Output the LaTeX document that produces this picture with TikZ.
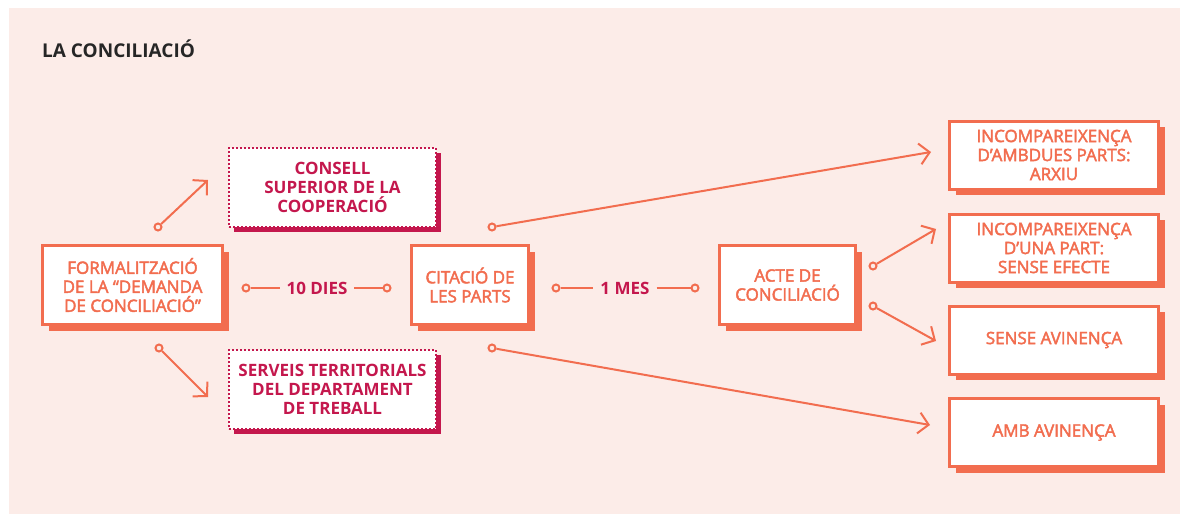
\documentclass[tikz,border=0pt]{standalone}
\usepackage{fontspec}
\setmainfont{Open Sans}
\newfontfamily\semib[FakeBold=2.5]{Open Sans}
\usetikzlibrary{arrows.meta,shadows,positioning}

\definecolor{orng}{HTML}{F26D4F}
\definecolor{crim}{HTML}{C4174D}
\definecolor{bgpink}{HTML}{FCECE8}

\begin{document}
\begin{tikzpicture}[x=1pt,y=-1pt,>={Straight Barb[length=10pt,width=21pt]},
    main box/.style={draw=orng,line width=3pt,fill=white,text=orng,align=center,inner sep=0pt,
        font=\semib\fontsize{17}{19}\selectfont,
        drop shadow={shadow xshift=6pt,shadow yshift=-6pt,fill=orng,opacity=1}},
    end box/.style={main box,minimum width=209pt,minimum height=68pt},
    side box/.style={draw=crim,line width=2pt,dotted,fill=white,text=crim,align=center,inner sep=0pt,
        font=\bfseries\fontsize{17}{19}\selectfont,minimum width=207pt,minimum height=79pt,
        drop shadow={shadow xshift=5pt,shadow yshift=-5pt,fill=crim,opacity=1}},
    dot/.style={circle,draw=orng,fill=bgpink,line width=2pt,minimum size=7pt,inner sep=0pt},
    conn/.style={draw=orng,line width=2pt},
    gap label/.style={text=crim,font=\bfseries\fontsize{17}{19}\selectfont,inner xsep=7pt,inner ysep=2pt,outer sep=0pt}]

    \useasboundingbox (0,0) rectangle (1180,514);
    \fill[bgpink] (9,8) rectangle (1180,514);

    \node[anchor=base west,inner sep=0pt,font=\bfseries\fontsize{19}{22}\selectfont,text=black!85] (title) at (42,57) {LA CONCILIACIÓ};

    % main row
    \node[main box,minimum width=180pt,minimum height=79pt] (formal) at (132.5,285) {FORMALITZACIÓ\\DE LA “DEMANDA\\DE CONCILIACIÓ”};
    \node[main box,minimum width=117pt,minimum height=79pt] (citacio) at (470,285) {CITACIÓ DE\\LES PARTS};
    \node[main box,minimum width=136pt,minimum height=79pt] (acte) at (787.5,285) {ACTE DE\\CONCILIACIÓ};

    % bodies
    \node[side box] (consell) at (332.5,187) {CONSELL\\SUPERIOR DE LA\\COOPERACIÓ};
    \node[side box] (serveis) at (332.5,389.5) {SERVEIS TERRITORIALS\\DEL DEPARTAMENT\\DE TREBALL};

    % results
    \node[end box] (ambdues) at (1054,155) {INCOMPAREIXENÇA\\D’AMBDUES PARTS:\\ARXIU};
    \node[end box] (unapart) at (1054,248) {INCOMPAREIXENÇA\\D’UNA PART:\\SENSE EFECTE};
    \node[end box] (sense) at (1054,340) {SENSE AVINENÇA};
    \node[end box] (amb) at (1054,432.5) {AMB AVINENÇA};

    % terms
    \node[dot] (d10a) at (246,288) {};
    \node[gap label] (dies) at (317,288) {10 DIES};
    \node[dot] (d10b) at (387,288) {};
    \node[dot] (d1a) at (556,288) {};
    \node[gap label] (mes) at (625,288) {1 MES};
    \node[dot] (d1b) at (695,288) {};
    \draw[conn] (d10a) -- (dies);
    \draw[conn] (dies) -- (d10b);
    \draw[conn] (d1a) -- (mes);
    \draw[conn] (mes) -- (d1b);

    % branches
    \node[dot] (fup) at (158,227) {};
    \node[dot] (fdown) at (159,348) {};
    \node[dot] (cup) at (492,227) {};
    \node[dot] (cdown) at (492,348) {};
    \node[dot] (aup) at (873,266) {};
    \node[dot] (adown) at (873,306) {};
    \coordinate (tfup) at (208,180);
    \coordinate (tfdown) at (208,397);
    \coordinate (tcup) at (931,152);
    \coordinate (tcdown) at (930,425);
    \coordinate (taup) at (936,229);
    \coordinate (tadown) at (936,341);
    \draw[conn,->] (fup) -- (tfup);
    \draw[conn,->] (fdown) -- (tfdown);
    \draw[conn,->] (cup) -- (tcup);
    \draw[conn,->] (cdown) -- (tcdown);
    \draw[conn,->] (aup) -- (taup);
    \draw[conn,->] (adown) -- (tadown);
\end{tikzpicture}
\end{document}
